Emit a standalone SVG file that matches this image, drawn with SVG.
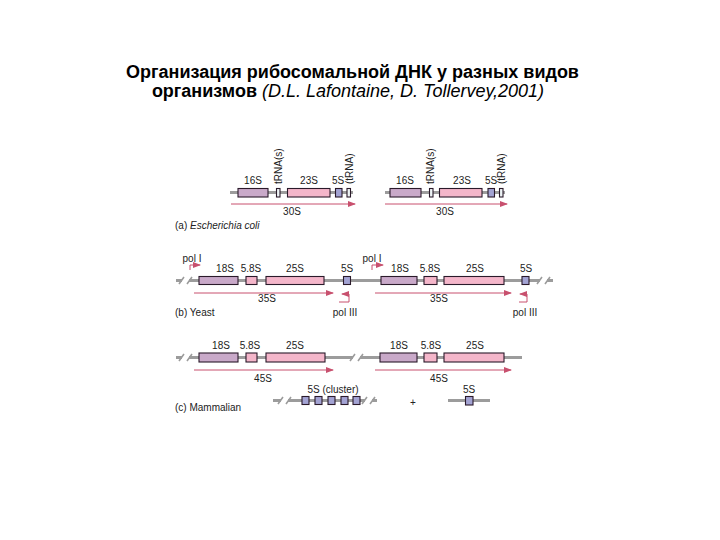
<svg xmlns="http://www.w3.org/2000/svg" width="720" height="540" viewBox="0 0 720 540">
<defs>
<marker id="ah" markerWidth="8" markerHeight="6" refX="7" refY="3" orient="auto" markerUnits="userSpaceOnUse">
<path d="M0,0 L8,3 L0,6 z" fill="#c8506e"/>
</marker>
<style>
.title{font-family:"Liberation Sans",Arial,sans-serif;font-size:18px;fill:#000}
.lb{font-family:"Liberation Sans",Arial,sans-serif;font-size:10px;fill:#222}
.dna{stroke:#9c9c9c;stroke-width:3;fill:none}
.sl{stroke:#9c9c9c;stroke-width:1.6;fill:none}
.gap{fill:#fff}
.arr{stroke:#c8506e;stroke-width:1;fill:none}
.b{stroke:#2a1a2a;stroke-width:1.1}
.s16{fill:#c9a9c9}
.s23{fill:#f4b6ca}
.s5{fill:#a3a3d3}
.tr{fill:#eef4f6}
</style>
</defs>
<rect width="720" height="540" fill="#fff"/>

<g id="title">
<text class="title" x="352.5" y="78" text-anchor="middle" font-weight="bold">Организация рибосомальной ДНК у разных видов</text>
<text class="title" x="348" y="97" text-anchor="middle"><tspan font-weight="bold">организмов </tspan><tspan font-style="italic">(D.L. Lafontaine, D. Tollervey,2001)</tspan></text>
</g>

<g id="connectors">
<line class="dna" x1="230" y1="192.5" x2="353" y2="192.5"/>
<line class="dna" x1="385" y1="192.5" x2="505" y2="192.5"/>
<line class="arr" x1="231" y1="204" x2="355" y2="204" marker-end="url(#ah)"/>
<line class="arr" x1="385" y1="204" x2="507" y2="204" marker-end="url(#ah)"/>
<line class="dna" x1="176" y1="280.5" x2="553" y2="280.5"/>
<rect class="gap" x="182" y="276" width="7" height="9"/>
<path class="sl" d="M179,284 L184,277 M187,284 L192,277"/>
<rect class="gap" x="540" y="276" width="7" height="9"/>
<path class="sl" d="M537,284 L542,277 M545,284 L550,277"/>
<line class="arr" x1="194" y1="293" x2="333" y2="293" marker-end="url(#ah)"/>
<line class="arr" x1="375" y1="293" x2="511" y2="293" marker-end="url(#ah)"/>
<path class="arr" d="M190,270 V265 H200" marker-end="url(#ah)"/>
<path class="arr" d="M372,270 V265 H383" marker-end="url(#ah)"/>
<path class="arr" d="M339,302 H349 V294 H342" marker-end="url(#ah)"/>
<path class="arr" d="M519,302 H527 V294 H520" marker-end="url(#ah)"/>
<line class="dna" x1="176" y1="357.5" x2="522" y2="357.5"/>
<rect class="gap" x="182" y="353" width="7" height="9"/>
<path class="sl" d="M179,361 L184,354 M187,361 L192,354"/>
<rect class="gap" x="353" y="353" width="7" height="9"/>
<path class="sl" d="M350,361 L355,354 M358,361 L363,354"/>
<line class="arr" x1="194" y1="370" x2="333" y2="370" marker-end="url(#ah)"/>
<line class="arr" x1="375" y1="370" x2="511" y2="370" marker-end="url(#ah)"/>
<line class="dna" x1="273" y1="400.5" x2="377" y2="400.5"/>
<rect class="gap" x="281" y="396" width="7" height="9"/>
<path class="sl" d="M278,404 L283,397 M286,404 L291,397"/>
<rect class="gap" x="365" y="396" width="7" height="9"/>
<path class="sl" d="M362,404 L367,397 M370,404 L375,397"/>
<line class="dna" x1="448" y1="400.5" x2="490" y2="400.5"/>
</g>

<g id="ecoli-1">
<rect class="s16 b" x="238" y="188.5" width="30" height="8.5"/>
<rect class="tr b" x="276.5" y="188.5" width="3.5" height="8.5"/>
<rect class="s23 b" x="287.5" y="188.5" width="42.5" height="8.5"/>
<rect class="s5 b" x="335.5" y="188.5" width="6.5" height="8.5"/>
<rect class="tr b" x="347" y="188.5" width="3.5" height="8.5"/>
<text class="lb" x="253" y="184" text-anchor="middle">16S</text>
<text class="lb" x="309" y="184" text-anchor="middle">23S</text>
<text class="lb" x="338" y="184" text-anchor="middle">5S</text>
<text class="lb" transform="translate(282,184) rotate(-90)">tRNA(s)</text>
<text class="lb" transform="translate(353,184) rotate(-90)">(tRNA)</text>
<text class="lb" x="292" y="215" text-anchor="middle">30S</text>
</g>

<g id="ecoli-2">
<rect class="s16 b" x="390" y="188.5" width="31" height="8.5"/>
<rect class="tr b" x="429.5" y="188.5" width="3.5" height="8.5"/>
<rect class="s23 b" x="439.5" y="188.5" width="42.5" height="8.5"/>
<rect class="s5 b" x="488" y="188.5" width="6.5" height="8.5"/>
<rect class="tr b" x="499.5" y="188.5" width="3.5" height="8.5"/>
<text class="lb" x="405" y="184" text-anchor="middle">16S</text>
<text class="lb" x="462" y="184" text-anchor="middle">23S</text>
<text class="lb" x="491" y="184" text-anchor="middle">5S</text>
<text class="lb" transform="translate(434,184) rotate(-90)">tRNA(s)</text>
<text class="lb" transform="translate(505,184) rotate(-90)">(tRNA)</text>
<text class="lb" x="445" y="215" text-anchor="middle">30S</text>
</g>

<g id="ecoli-label">
<text class="lb" x="175" y="229">(a) <tspan font-style="italic">Escherichia coli</tspan></text>
</g>

<g id="yeast-1">
<rect class="s16 b" x="199" y="276.5" width="39" height="8"/>
<rect class="s23 b" x="246" y="276.5" width="11" height="8"/>
<rect class="s23 b" x="266" y="276.5" width="58" height="8"/>
<rect class="s5 b" x="343.5" y="276.5" width="7" height="8"/>
<text class="lb" x="225" y="272" text-anchor="middle">18S</text>
<text class="lb" x="251" y="272" text-anchor="middle">5.8S</text>
<text class="lb" x="295" y="272" text-anchor="middle">25S</text>
<text class="lb" x="347" y="272" text-anchor="middle">5S</text>
<text class="lb" x="192" y="262" text-anchor="middle">pol I</text>
<text class="lb" x="345" y="316" text-anchor="middle">pol III</text>
<text class="lb" x="267" y="302" text-anchor="middle">35S</text>
</g>

<g id="yeast-2">
<rect class="s16 b" x="381" y="276.5" width="36" height="8"/>
<rect class="s23 b" x="424" y="276.5" width="13" height="8"/>
<rect class="s23 b" x="444" y="276.5" width="60" height="8"/>
<rect class="s5 b" x="522" y="276.5" width="7" height="8"/>
<text class="lb" x="400" y="272" text-anchor="middle">18S</text>
<text class="lb" x="430" y="272" text-anchor="middle">5.8S</text>
<text class="lb" x="475" y="272" text-anchor="middle">25S</text>
<text class="lb" x="526" y="272" text-anchor="middle">5S</text>
<text class="lb" x="372" y="262" text-anchor="middle">pol I</text>
<text class="lb" x="525" y="316" text-anchor="middle">pol III</text>
<text class="lb" x="439" y="302" text-anchor="middle">35S</text>
</g>

<g id="yeast-label">
<text class="lb" x="175" y="316">(b) Yeast</text>
</g>

<g id="mammal-1">
<rect class="s16 b" x="199" y="353" width="39" height="9"/>
<rect class="s23 b" x="246" y="353" width="11" height="9"/>
<rect class="s23 b" x="266" y="353" width="59" height="9"/>
<text class="lb" x="221" y="349" text-anchor="middle">18S</text>
<text class="lb" x="250" y="349" text-anchor="middle">5.8S</text>
<text class="lb" x="295" y="349" text-anchor="middle">25S</text>
<text class="lb" x="263" y="382" text-anchor="middle">45S</text>
</g>

<g id="mammal-2">
<rect class="s16 b" x="380" y="353" width="37" height="9"/>
<rect class="s23 b" x="424" y="353" width="13" height="9"/>
<rect class="s23 b" x="444" y="353" width="60" height="9"/>
<text class="lb" x="399" y="349" text-anchor="middle">18S</text>
<text class="lb" x="431" y="349" text-anchor="middle">5.8S</text>
<text class="lb" x="475" y="349" text-anchor="middle">25S</text>
<text class="lb" x="439" y="382" text-anchor="middle">45S</text>
</g>

<g id="cluster-5S">
<rect class="s5 b" x="302" y="396.5" width="7" height="8"/>
<rect class="s5 b" x="315" y="396.5" width="7" height="8"/>
<rect class="s5 b" x="328" y="396.5" width="7" height="8"/>
<rect class="s5 b" x="341" y="396.5" width="7" height="8"/>
<rect class="s5 b" x="353" y="396.5" width="7" height="8"/>
<text class="lb" x="333" y="393" text-anchor="middle">5S (cluster)</text>
</g>

<g id="plus">
<text class="lb" x="413" y="406" text-anchor="middle">+</text>
</g>

<g id="single-5S">
<rect class="s5 b" x="465.5" y="396.5" width="7.5" height="8.5"/>
<text class="lb" x="469" y="393" text-anchor="middle">5S</text>
</g>

<g id="mammal-label">
<text class="lb" x="175" y="411">(c) Mammalian</text>
</g>
</svg>
